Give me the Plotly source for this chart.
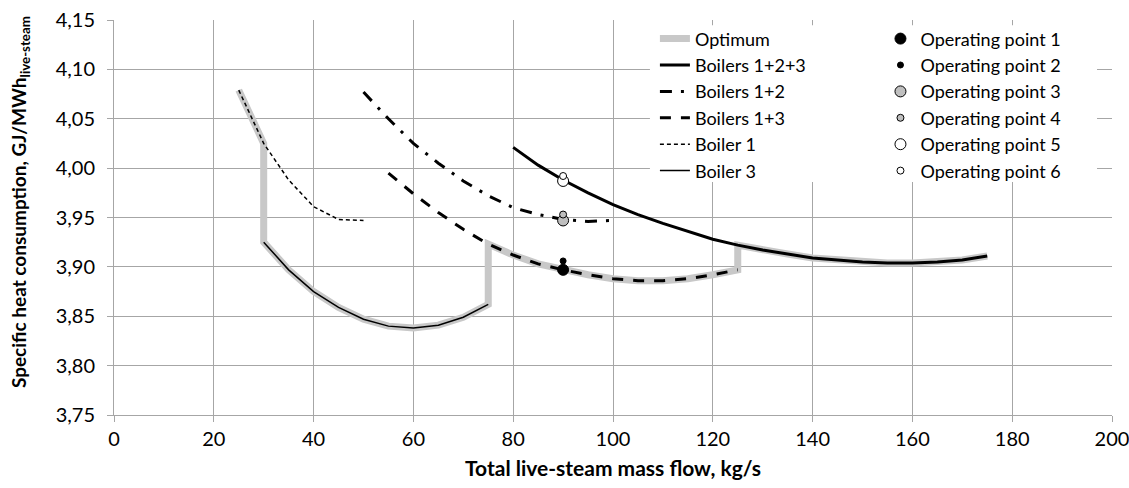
import plotly.graph_objects as go

# ---------------- data ----------------
b123_x = [80, 85, 90, 95, 100, 105, 110, 115, 120, 125, 130, 135, 140, 145, 150, 155, 160, 165, 170, 175]
b123_y = [4.021, 4.003, 3.988, 3.975, 3.963, 3.953, 3.944, 3.936, 3.928, 3.922,
          3.917, 3.913, 3.909, 3.907, 3.905, 3.904, 3.904, 3.905, 3.907, 3.911]

b12_x = [50, 55, 60, 65, 70, 75, 80, 85, 90, 95, 100]
b12_y = [4.077, 4.050, 4.025, 4.005, 3.987, 3.972, 3.960, 3.953, 3.948, 3.946, 3.947]

b13_x = [55, 60, 65, 70, 75, 80, 85, 90, 95, 100, 105, 110, 115, 120, 125]
b13_y = [3.995, 3.974, 3.955, 3.938, 3.923, 3.912, 3.903, 3.897, 3.892, 3.888,
         3.886, 3.886, 3.888, 3.892, 3.897]

b1_x = [25, 30, 35, 40, 45, 50]
b1_y = [4.079, 4.025, 3.988, 3.961, 3.948, 3.947]

b3_x = [30, 35, 40, 45, 50, 55, 60, 65, 70, 75]
b3_y = [3.925, 3.897, 3.875, 3.859, 3.847, 3.840, 3.838, 3.841, 3.849, 3.862]

# optimum path: boiler 1 -> boiler 3 -> boilers 1+3 -> boilers 1+2+3
opt_x = b1_x[:2] + b3_x + b13_x[4:] + b123_x[9:]
opt_y = b1_y[:2] + b3_y + b13_y[4:] + b123_y[9:]

op_names = ["Operating point 1", "Operating point 2", "Operating point 3",
            "Operating point 4", "Operating point 5", "Operating point 6"]
op_x = [90, 90, 90, 90, 90, 90]
op_y = [3.897, 3.906, 3.947, 3.953, 3.987, 3.992]

x_ticks = [0, 20, 40, 60, 80, 100, 120, 140, 160, 180, 200]
y_ticks = [3.75, 3.80, 3.85, 3.90, 3.95, 4.00, 4.05, 4.10, 4.15]

# ---------------- styles ----------------
FONT = "Lato"
GRID = "#a6a6a6"
op_size = [11, 6, 11, 7, 11, 7]
op_fill = ["black", "black", "#bfbfbf", "#bfbfbf", "white", "white"]

fig = go.Figure()

fig.add_trace(go.Scatter(x=opt_x, y=opt_y, mode="lines", name="Optimum",
                         line=dict(color="#c8c8c8", width=7), legend="legend"))
fig.add_trace(go.Scatter(x=b123_x, y=b123_y, mode="lines", name="Boilers 1+2+3",
                         line=dict(color="black", width=3), legend="legend"))
fig.add_trace(go.Scatter(x=b12_x, y=b12_y, mode="lines", name="Boilers 1+2",
                         line=dict(color="black", width=3, dash="12px,9px,3px,9px"),
                         legend="legend"))
fig.add_trace(go.Scatter(x=b13_x, y=b13_y, mode="lines", name="Boilers 1+3",
                         line=dict(color="black", width=3, dash="11px,10px"),
                         legend="legend"))
fig.add_trace(go.Scatter(x=b1_x, y=b1_y, mode="lines", name="Boiler 1",
                         line=dict(color="black", width=1.5, dash="4px,3px"),
                         legend="legend"))
fig.add_trace(go.Scatter(x=b3_x, y=b3_y, mode="lines", name="Boiler 3",
                         line=dict(color="black", width=1.5), legend="legend"))

for i in range(len(op_names)):
    fig.add_trace(go.Scatter(
        x=[op_x[i]], y=[op_y[i]], mode="markers", name=op_names[i],
        marker=dict(size=op_size[i], color=op_fill[i],
                    line=dict(color="black", width=1)),
        legend="legend2"))

fig.update_layout(
    width=1129, height=488,
    margin=dict(l=114, r=17, t=20, b=73, autoexpand=False),
    paper_bgcolor="white", plot_bgcolor="white",
    separators=", ",
    font=dict(family=FONT, size=20, color="black"),
    showlegend=True,
    legend=dict(x=0.542, y=0.999, xanchor="left", yanchor="top",
                bgcolor="rgba(0,0,0,0)", tracegroupgap=0,
                font=dict(family=FONT, size=18, color="black")),
    legend2=dict(x=0.768, y=0.999, xanchor="left", yanchor="top",
                 bgcolor="rgba(0,0,0,0)", tracegroupgap=0,
                 font=dict(family=FONT, size=18, color="black")),
    xaxis=dict(range=[0, 200], tickvals=x_ticks, showgrid=True, gridcolor=GRID,
               gridwidth=1, zeroline=False, showline=True, linecolor=GRID,
               ticks="outside", ticklen=6, tickcolor=GRID, automargin=False,
               ticklabeloverflow="allow",
               tickfont=dict(family=FONT, size=20),
               title=dict(text="<b>Total live-steam mass flow, kg/s</b>",
                          font=dict(family=FONT, size=21), standoff=12)),
    yaxis=dict(range=[3.75, 4.15], tickvals=y_ticks, tickformat=".2f",
               showgrid=True, gridcolor=GRID, gridwidth=1, zeroline=False,
               showline=True, linecolor=GRID, ticks="outside", ticklen=6,
               tickcolor=GRID, tickfont=dict(family=FONT, size=20),
               automargin=False,
               ticklabeloverflow="allow", ticklabelstandoff=8),
    shapes=[dict(type="rect", xref="paper", yref="paper",
                 x0=0.537, x1=0.985, y0=0.590, y1=0.987,
                 fillcolor="white", line=dict(width=0), layer="above")],
    annotations=[dict(text="<b>Specific heat consumption, GJ/MWh<sub>live-steam</sub></b>",
                      textangle=-90, xref="paper", yref="paper",
                      x=-0.0942, y=0.539, xanchor="center", yanchor="middle",
                      showarrow=False, font=dict(family=FONT, size=19))],
)

fig.write_html("out.html", config={"displayModeBar": False},
               post_script="document.body.style.margin='0';")
